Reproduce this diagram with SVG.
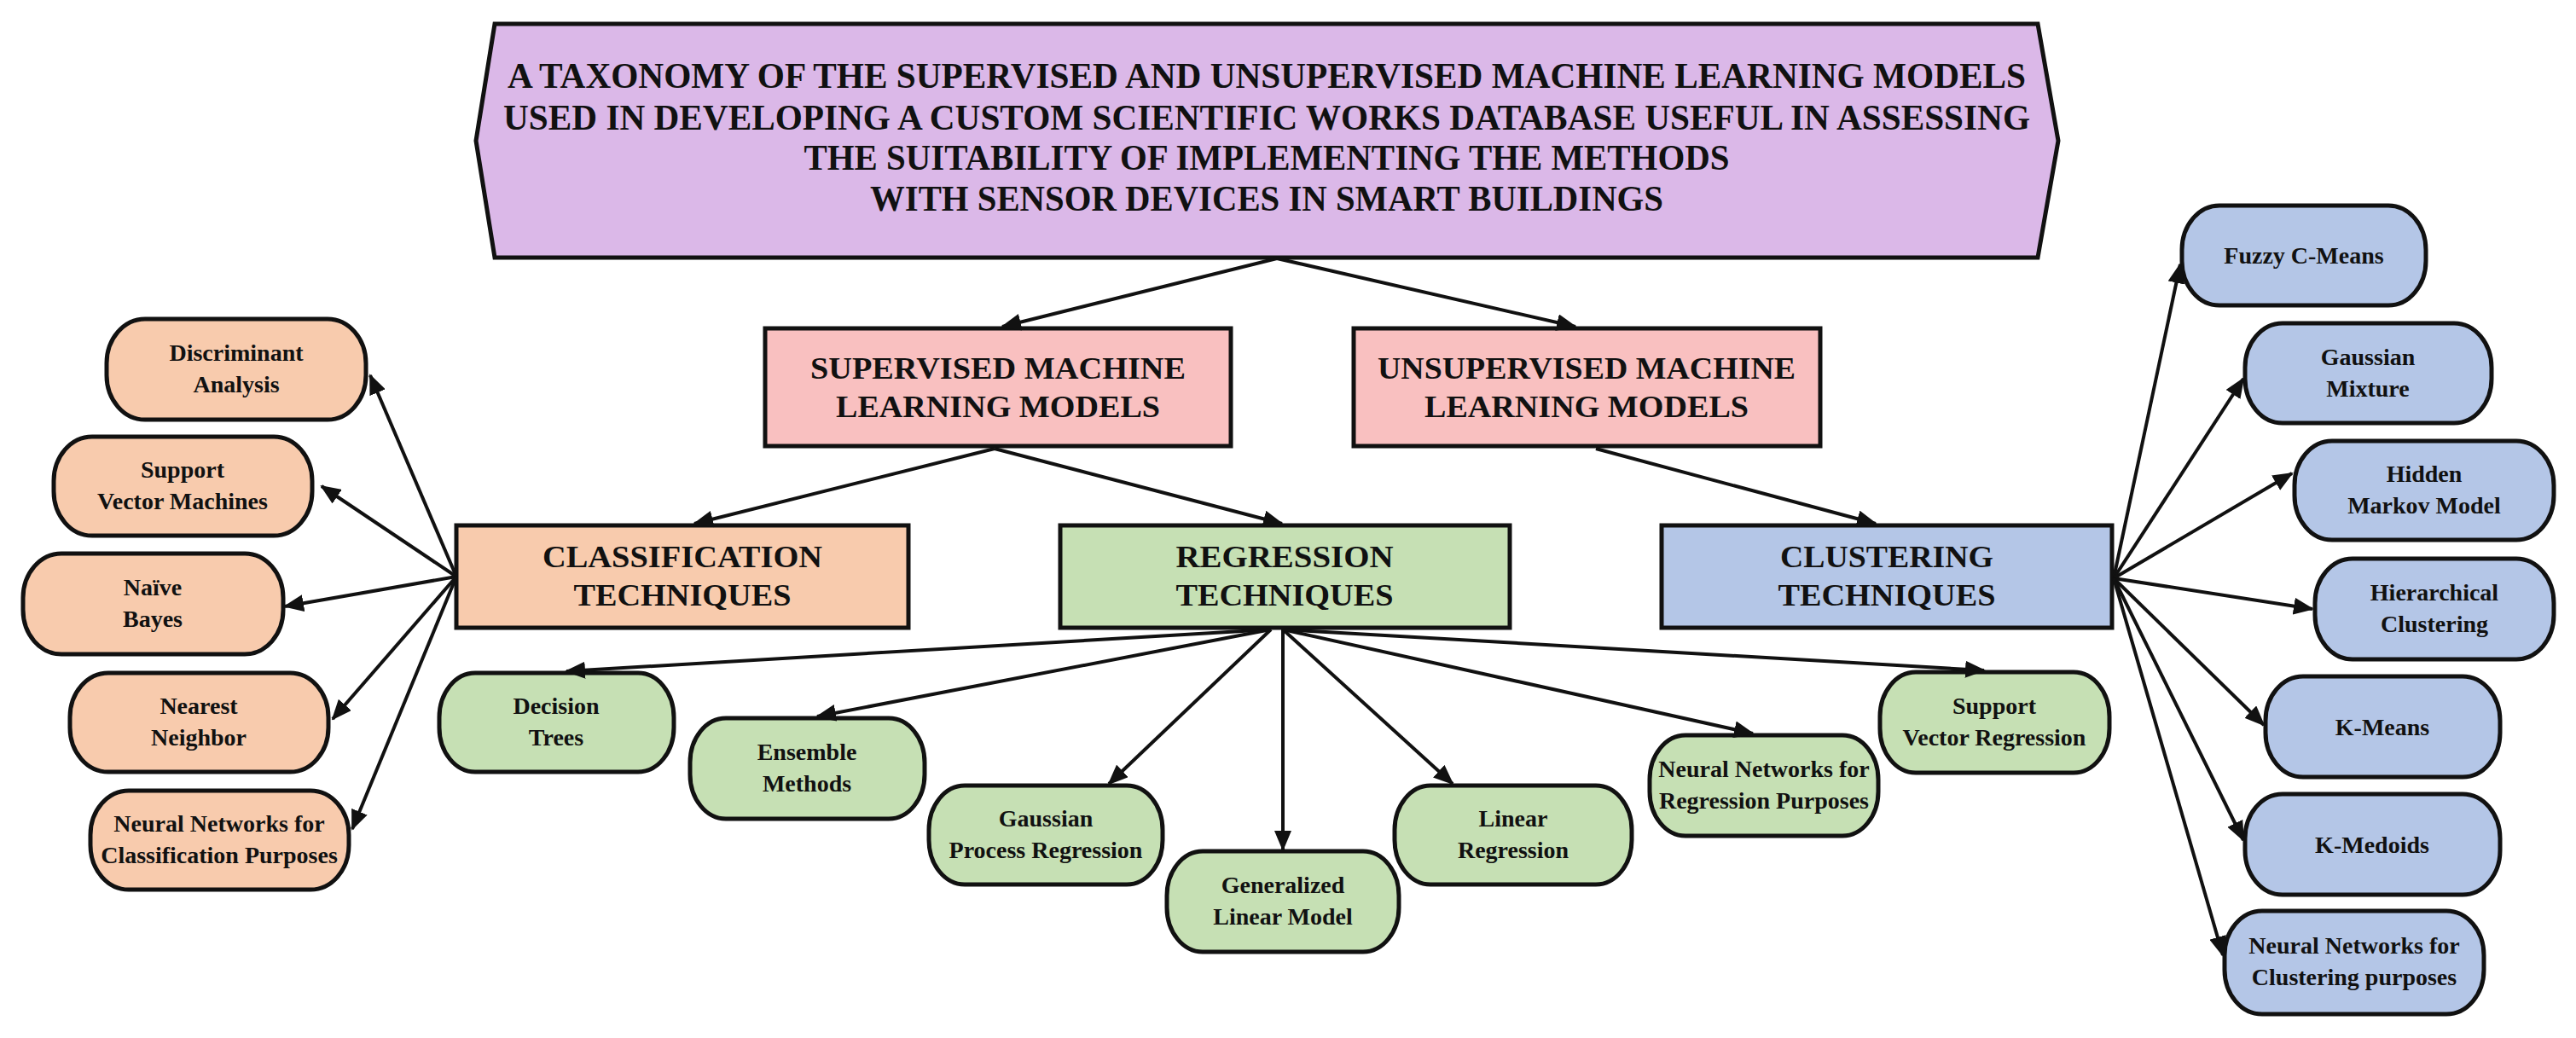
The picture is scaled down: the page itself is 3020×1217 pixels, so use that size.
<svg xmlns="http://www.w3.org/2000/svg" width="3020" height="1217" viewBox="0 0 3020 1217">
<style>
.t{font-family:"Liberation Serif","Times New Roman",serif;font-weight:bold;fill:#111;text-anchor:middle}
.title{font-size:42px}
.box{font-size:36px}
.n{font-size:28px}
.sh{stroke:#111;stroke-width:5}
.peach{fill:#f8cbad}.green{fill:#c6e0b4}.blue{fill:#b4c6e7}.pink{fill:#f9c0c0}
.c line{stroke:#111;stroke-width:4;marker-end:url(#ah)}
</style>
<defs>
<marker id="ah" markerWidth="6" markerHeight="5" refX="5.5" refY="2.5" orient="auto" markerUnits="strokeWidth">
<path d="M0,0 L6,2.5 L0,5 z" fill="#111"/>
</marker>
</defs>
<rect width="3020" height="1217" fill="#fff"/>
<g id="title">
<polygon class="sh" fill="#dbb8e8" points="580,28 2389,28 2413,165 2389,302 580,302 558,165"/>
<text class="t title" x="1485" y="103" textLength="1780" lengthAdjust="spacingAndGlyphs">A TAXONOMY OF THE SUPERVISED AND UNSUPERVISED MACHINE LEARNING MODELS</text>
<text class="t title" x="1485" y="152" textLength="1790" lengthAdjust="spacingAndGlyphs">USED IN DEVELOPING A CUSTOM SCIENTIFIC WORKS DATABASE USEFUL IN ASSESSING</text>
<text class="t title" x="1485" y="199" textLength="1085" lengthAdjust="spacingAndGlyphs">THE SUITABILITY OF IMPLEMENTING THE METHODS</text>
<text class="t title" x="1485" y="247" textLength="930" lengthAdjust="spacingAndGlyphs">WITH SENSOR DEVICES IN SMART BUILDINGS</text>
</g>
<g id="supervised"><rect class="sh pink" x="897" y="385" width="546" height="138"/>
<text class="t box" x="1170" y="444" textLength="440" lengthAdjust="spacingAndGlyphs">SUPERVISED MACHINE</text><text class="t box" x="1170" y="489" textLength="380" lengthAdjust="spacingAndGlyphs">LEARNING MODELS</text></g>
<g id="unsupervised"><rect class="sh pink" x="1587" y="385" width="547" height="138"/>
<text class="t box" x="1860" y="444" textLength="490" lengthAdjust="spacingAndGlyphs">UNSUPERVISED MACHINE</text><text class="t box" x="1860" y="489" textLength="380" lengthAdjust="spacingAndGlyphs">LEARNING MODELS</text></g>
<g id="classification"><rect class="sh peach" x="535" y="616" width="530" height="120"/>
<text class="t box" x="800" y="665" textLength="328" lengthAdjust="spacingAndGlyphs">CLASSIFICATION</text><text class="t box" x="800" y="710" textLength="255" lengthAdjust="spacingAndGlyphs">TECHNIQUES</text></g>
<g id="regression"><rect class="sh green" x="1243" y="616" width="527" height="120"/>
<text class="t box" x="1506" y="665" textLength="255" lengthAdjust="spacingAndGlyphs">REGRESSION</text><text class="t box" x="1506" y="710" textLength="255" lengthAdjust="spacingAndGlyphs">TECHNIQUES</text></g>
<g id="clustering"><rect class="sh blue" x="1948" y="616" width="528" height="120"/>
<text class="t box" x="2212" y="665" textLength="250" lengthAdjust="spacingAndGlyphs">CLUSTERING</text><text class="t box" x="2212" y="710" textLength="255" lengthAdjust="spacingAndGlyphs">TECHNIQUES</text></g>

<g id="discriminant"><rect class="sh peach" x="125" y="374" width="304" height="118" rx="45" ry="52"/><text class="t n" x="277" y="423">Discriminant</text><text class="t n" x="277" y="460">Analysis</text></g>
<g id="svm"><rect class="sh peach" x="63" y="512" width="303" height="116" rx="45" ry="52"/><text class="t n" x="214" y="560">Support</text><text class="t n" x="214" y="597">Vector Machines</text></g>
<g id="naive"><rect class="sh peach" x="27" y="649" width="305" height="118" rx="45" ry="52"/><text class="t n" x="179" y="698">Naïve</text><text class="t n" x="179" y="735">Bayes</text></g>
<g id="nearest"><rect class="sh peach" x="82" y="789" width="303" height="116" rx="45" ry="52"/><text class="t n" x="233" y="837">Nearest</text><text class="t n" x="233" y="874">Neighbor</text></g>
<g id="nnclass"><rect class="sh peach" x="106" y="927" width="303" height="116" rx="45" ry="52"/><text class="t n" x="257" y="975" font-size="26">Neural Networks for</text><text class="t n" x="257" y="1012" font-size="26">Classification Purposes</text></g>

<g id="decision"><rect class="sh green" x="515" y="789" width="275" height="116" rx="42" ry="52"/><text class="t n" x="652" y="837">Decision</text><text class="t n" x="652" y="874">Trees</text></g>
<g id="ensemble"><rect class="sh green" x="809" y="842" width="275" height="118" rx="42" ry="52"/><text class="t n" x="946" y="891">Ensemble</text><text class="t n" x="946" y="928">Methods</text></g>
<g id="gpr"><rect class="sh green" x="1089" y="921" width="274" height="116" rx="42" ry="52"/><text class="t n" x="1226" y="969">Gaussian</text><text class="t n" x="1226" y="1006" font-size="26">Process Regression</text></g>
<g id="glm"><rect class="sh green" x="1368" y="998" width="272" height="118" rx="42" ry="52"/><text class="t n" x="1504" y="1047">Generalized</text><text class="t n" x="1504" y="1084">Linear Model</text></g>
<g id="linear"><rect class="sh green" x="1635" y="921" width="278" height="116" rx="42" ry="52"/><text class="t n" x="1774" y="969">Linear</text><text class="t n" x="1774" y="1006">Regression</text></g>
<g id="nnreg"><rect class="sh green" x="1934" y="862" width="268" height="118" rx="42" ry="52"/><text class="t n" x="2068" y="911" font-size="25">Neural Networks for</text><text class="t n" x="2068" y="948" font-size="25">Regression Purposes</text></g>
<g id="svr"><rect class="sh green" x="2204" y="788" width="269" height="118" rx="42" ry="52"/><text class="t n" x="2338" y="837">Support</text><text class="t n" x="2338" y="874" font-size="26">Vector Regression</text></g>

<g id="fuzzy"><rect class="sh blue" x="2558" y="241" width="286" height="117" rx="44" ry="52"/><text class="t n" x="2701" y="309">Fuzzy C-Means</text></g>
<g id="gmm"><rect class="sh blue" x="2632" y="379" width="289" height="117" rx="44" ry="52"/><text class="t n" x="2776" y="428">Gaussian</text><text class="t n" x="2776" y="465">Mixture</text></g>
<g id="hmm"><rect class="sh blue" x="2690" y="517" width="304" height="116" rx="44" ry="52"/><text class="t n" x="2842" y="565">Hidden</text><text class="t n" x="2842" y="602">Markov Model</text></g>
<g id="hier"><rect class="sh blue" x="2714" y="655" width="280" height="118" rx="44" ry="52"/><text class="t n" x="2854" y="704">Hierarchical</text><text class="t n" x="2854" y="741">Clustering</text></g>
<g id="kmeans"><rect class="sh blue" x="2656" y="793" width="275" height="118" rx="44" ry="52"/><text class="t n" x="2793" y="862">K-Means</text></g>
<g id="kmedoids"><rect class="sh blue" x="2632" y="931" width="299" height="118" rx="44" ry="52"/><text class="t n" x="2781" y="1000">K-Medoids</text></g>
<g id="nnclust"><rect class="sh blue" x="2608" y="1068" width="304" height="121" rx="44" ry="52"/><text class="t n" x="2760" y="1118" font-size="26">Neural Networks for</text><text class="t n" x="2760" y="1155" font-size="26">Clustering purposes</text></g>

<g class="c" id="connectors">
<line x1="1497" y1="303" x2="1175" y2="383"/>
<line x1="1497" y1="303" x2="1847" y2="383"/>
<line x1="1166" y1="526" x2="814" y2="614"/>
<line x1="1166" y1="526" x2="1503" y2="614"/>
<line x1="1871" y1="526" x2="2199" y2="614"/>
<line x1="535" y1="676" x2="434" y2="440"/>
<line x1="535" y1="676" x2="377" y2="570"/>
<line x1="535" y1="676" x2="334" y2="711"/>
<line x1="535" y1="676" x2="390" y2="843"/>
<line x1="535" y1="676" x2="413" y2="972"/>
<line x1="1490" y1="738" x2="664" y2="787"/>
<line x1="1490" y1="738" x2="958" y2="840"/>
<line x1="1490" y1="738" x2="1300" y2="919"/>
<line x1="1504" y1="738" x2="1504" y2="996"/>
<line x1="1504" y1="738" x2="1703" y2="919"/>
<line x1="1504" y1="738" x2="2055" y2="860"/>
<line x1="1504" y1="738" x2="2326" y2="786"/>
<line x1="2478" y1="678" x2="2556" y2="310"/>
<line x1="2478" y1="678" x2="2630" y2="444"/>
<line x1="2478" y1="678" x2="2687" y2="555"/>
<line x1="2478" y1="678" x2="2711" y2="714"/>
<line x1="2478" y1="678" x2="2654" y2="850"/>
<line x1="2478" y1="678" x2="2630" y2="985"/>
<line x1="2478" y1="678" x2="2606" y2="1120"/>
</g>
</svg>
